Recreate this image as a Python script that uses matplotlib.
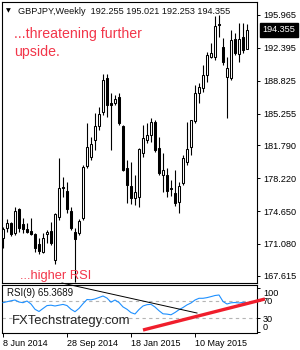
import matplotlib
matplotlib.use("Agg")
import matplotlib.pyplot as plt
import numpy as np
from matplotlib.transforms import blended_transform_factory, ScaledTranslation

plt.rcParams['font.family'] = ['Liberation Sans', 'DejaVu Sans']

# ---------------- data ----------------
symbol = "GBPJPY,Weekly"
header_ohlc = [192.255, 195.021, 192.253, 194.355]

opens = [171.73, 172.81, 173.36, 172.27, 174.88, 173.25, 172.70, 172.49, 172.16, 171.07,
         170.20, 172.16, 172.49, 169.33, 174.01, 177.27, 176.83, 174.66, 172.38, 172.27,
         173.90, 179.55, 180.53, 182.38, 183.90, 185.42, 189.12, 186.40, 186.40, 187.05,
         183.90, 179.33, 177.38, 176.07, 176.18, 180.97, 182.38, 182.92, 184.33, 181.51,
         178.57, 178.57, 177.16, 176.62, 175.64, 177.70, 179.99, 181.62, 184.44, 187.49,
         188.03, 189.44, 191.40, 191.40, 194.99, 192.49, 189.23, 189.12, 193.36, 191.73,
         193.57, 192.255]
highs = [172.92, 173.79, 173.47, 175.10, 174.99, 173.90, 173.36, 173.90, 172.27, 171.73,
         172.27, 172.60, 173.47, 174.45, 180.42, 178.36, 177.81, 175.10, 172.81, 173.79,
         179.66, 184.23, 182.70, 185.31, 185.97, 189.55, 189.55, 187.49, 187.27, 187.49,
         184.01, 180.20, 179.99, 178.57, 181.51, 184.01, 184.23, 184.77, 184.55, 182.70,
         180.97, 179.33, 178.03, 179.12, 177.81, 180.75, 184.33, 184.60, 188.36, 188.57,
         190.53, 191.94, 192.92, 195.86, 195.97, 193.46, 191.40, 194.33, 194.01, 195.10,
         195.10, 195.021]
lows = [170.64, 172.38, 171.94, 172.05, 172.38, 172.27, 172.27, 172.05, 170.20, 169.99,
        170.10, 171.18, 170.97, 168.90, 173.68, 176.18, 174.44, 172.60, 166.90, 172.05,
        173.68, 179.33, 180.20, 181.29, 183.47, 185.10, 184.88, 181.29, 186.18, 184.01,
        179.00, 175.53, 175.42, 175.31, 175.10, 180.53, 182.05, 182.16, 181.07, 178.57,
        176.73, 176.18, 176.29, 175.20, 174.44, 177.49, 179.66, 180.75, 184.23, 186.40,
        187.60, 188.68, 191.29, 191.07, 193.57, 190.53, 184.77, 188.90, 191.62, 190.86,
        191.83, 192.253]
closes = [172.70, 173.36, 172.16, 174.66, 172.81, 172.70, 172.38, 172.16, 170.64, 170.31,
          171.73, 172.38, 171.18, 174.33, 177.16, 177.16, 174.88, 172.81, 171.62, 173.57,
          179.44, 181.62, 181.94, 183.90, 185.20, 188.90, 186.18, 186.18, 186.83, 184.23,
          179.12, 177.49, 176.07, 176.73, 181.40, 182.60, 182.92, 184.33, 181.29, 178.79,
          179.12, 176.83, 177.05, 175.53, 177.38, 180.42, 181.40, 184.55, 187.49, 188.14,
          189.44, 191.62, 191.83, 194.77, 194.88, 190.86, 190.20, 193.25, 191.83, 193.36,
          192.16, 194.355]
rsi = [65.5, 67.7, 69.8, 71.6, 67.0, 65.5, 69.3, 62.5, 50.5, 45.5,
       52.3, 58.9, 59.8, 58.0, 59.8, 61.6, 59.0, 50.5, 45.0, 52.5,
       63.2, 72.7, 72.0, 74.0, 77.3, 80.7, 76.0, 66.6, 71.6, 65.9,
       55.9, 50.5, 43.0, 39.8, 50.0, 58.0, 61.0, 61.8, 55.7, 47.3,
       40.2, 39.5, 38.0, 43.2, 49.5, 54.5, 60.5, 64.8, 71.6, 75.5,
       75.5, 77.0, 79.3, 81.8, 83.0, 68.2, 62.5, 65.2, 65.9, 64.8,
       66.4, 65.3689]
rsi_period = 9
rsi_levels = [30, 70]
rsi_tick_vals = [100, 70, 30, 0]

price_ticks = [195.965, 192.395, 188.825, 185.255, 181.790, 178.220, 174.650, 171.080, 167.615]
date_tick_idx = [0, 16, 32, 48]
date_tick_labels = ["8 Jun 2014", "28 Sep 2014", "18 Jan 2015", "10 May 2015"]

# trend lines drawn on the RSI window (bar index, RSI value)
black_trend = [(14.75, 110.2), (48.5, 42.0)]
red_trend = [(35.0, 3.4), (65.5, 73.9)]

# ---------------- figure ----------------
W, H = 300, 350
fig = plt.figure(figsize=(W / 100, H / 100), dpi=100)
fig.patch.set_facecolor('white')

def fx(x):
    return x / W

def fy(y):
    return 1 - y / H

ax = fig.add_axes([fx(1.7), fy(283), fx(257.3) - fx(1.7), fy(1.5) - fy(283)])
axr = fig.add_axes([fx(1.7), fy(332.5), fx(257.3) - fx(1.7), fy(285) - fy(332.5)])

o = np.array(opens); h = np.array(highs); l = np.array(lows); c = np.array(closes)
idx = np.arange(len(o))
up = c >= o

ax.vlines(idx, l, h, color='black', linewidth=0.8, zorder=2)
bottoms = np.minimum(o, c)
heights = np.abs(c - o)
ax.bar(idx[up], heights[up], bottom=bottoms[up], width=0.58, facecolor='white',
       edgecolor='black', linewidth=0.75, zorder=3)
ax.bar(idx[~up], heights[~up], bottom=bottoms[~up], width=0.58, facecolor='black',
       edgecolor='black', linewidth=0.75, zorder=3)

xl = (-0.325, 63.575)
ax.set_xlim(*xl)
ax.set_ylim(166.83, 197.43)
ax.set_xticks([])
ax.yaxis.tick_right()
ax.set_yticks(price_ticks)
ax.set_yticklabels([f"{p:.3f}" for p in price_ticks])
ax.tick_params(axis='y', direction='out', length=2.5, width=0.7, labelsize=6.6,
               pad=1.5, colors='black')
for s in ax.spines.values():
    s.set_linewidth(0.8)
    s.set_color('black')

# current price box
tr = blended_transform_factory(ax.transAxes, ax.transData)
ax.text(1.021, header_ohlc[3], f"{header_ohlc[3]:.3f}", transform=tr, ha='left', va='center',
        color='white', fontsize=6.6,
        bbox=dict(boxstyle='square,pad=0.3', fc='black', ec='black'), clip_on=False, zorder=5)

# ---------------- RSI ----------------
axr.plot(idx, rsi, color='#1e90ff', linewidth=0.8, zorder=3)
for lv in rsi_levels:
    axr.axhline(lv, color='#b4b4b4', linewidth=0.8, linestyle=(0, (3, 3)), zorder=1)
axr.set_xlim(*xl)
axr.set_ylim(-2.27, 105.7)
axr.yaxis.tick_right()
axr.set_yticks(rsi_tick_vals)
axr.set_yticklabels([str(v) for v in rsi_tick_vals])
axr.tick_params(axis='y', direction='out', length=2.5, width=0.7, labelsize=6.6, pad=1.5)
for lbl, v in zip(axr.get_yticklabels(), rsi_tick_vals):
    if v == 100:
        lbl.set_transform(lbl.get_transform() + ScaledTranslation(0, -4.5 / 100, fig.dpi_scale_trans))
    elif v == 0:
        lbl.set_transform(lbl.get_transform() + ScaledTranslation(0, 5.0 / 100, fig.dpi_scale_trans))
axr.set_xticks(date_tick_idx)
axr.set_xticklabels(date_tick_labels)
axr.tick_params(axis='x', direction='out', length=3, width=0.7, labelsize=6.5, pad=1.5)
for lbl in axr.get_xticklabels():
    lbl.set_ha('left')
for s in axr.spines.values():
    s.set_linewidth(0.8)
    s.set_color('black')

bx, by = zip(*black_trend)
axr.plot(bx, by, color='black', linewidth=0.7, clip_on=False, zorder=4)
rx, ry = zip(*red_trend)
axr.plot(rx, ry, color='#f01e2c', linewidth=2.4, clip_on=False, zorder=6,
         solid_capstyle='butt')

# ---------------- texts ----------------
fig.text(fx(8.5), fy(10.8), "▼", fontsize=4.5, ha='center', va='center', color='black',
         family=['DejaVu Sans'])
fig.text(fx(18), fy(11.2), symbol + "  " + " ".join(f"{v:.3f}" for v in header_ohlc),
         fontsize=6.6, ha='left', va='center', color='#111111')
red = '#f2364a'
fig.text(fx(14), fy(37.8), "...threatening further", fontsize=10.2, color=red,
         ha='left', va='baseline')
fig.text(fx(14), fy(56.0), "upside.", fontsize=10.2, color=red, ha='left', va='baseline')
fig.text(fx(20), fy(279.5), "...higher RSI", fontsize=9.3, color=red, ha='left', va='baseline')
fig.text(fx(7), fy(293.5), f"RSI({rsi_period}) {rsi[-1]:.4f}", fontsize=7, color='#111111',
         ha='left', va='center')
fig.text(fx(11.7), fy(324), "FXTechstrategy.com", fontsize=9.45, color='#262626',
         ha='left', va='baseline')

fig.savefig("out.png", dpi=100, facecolor='white')
